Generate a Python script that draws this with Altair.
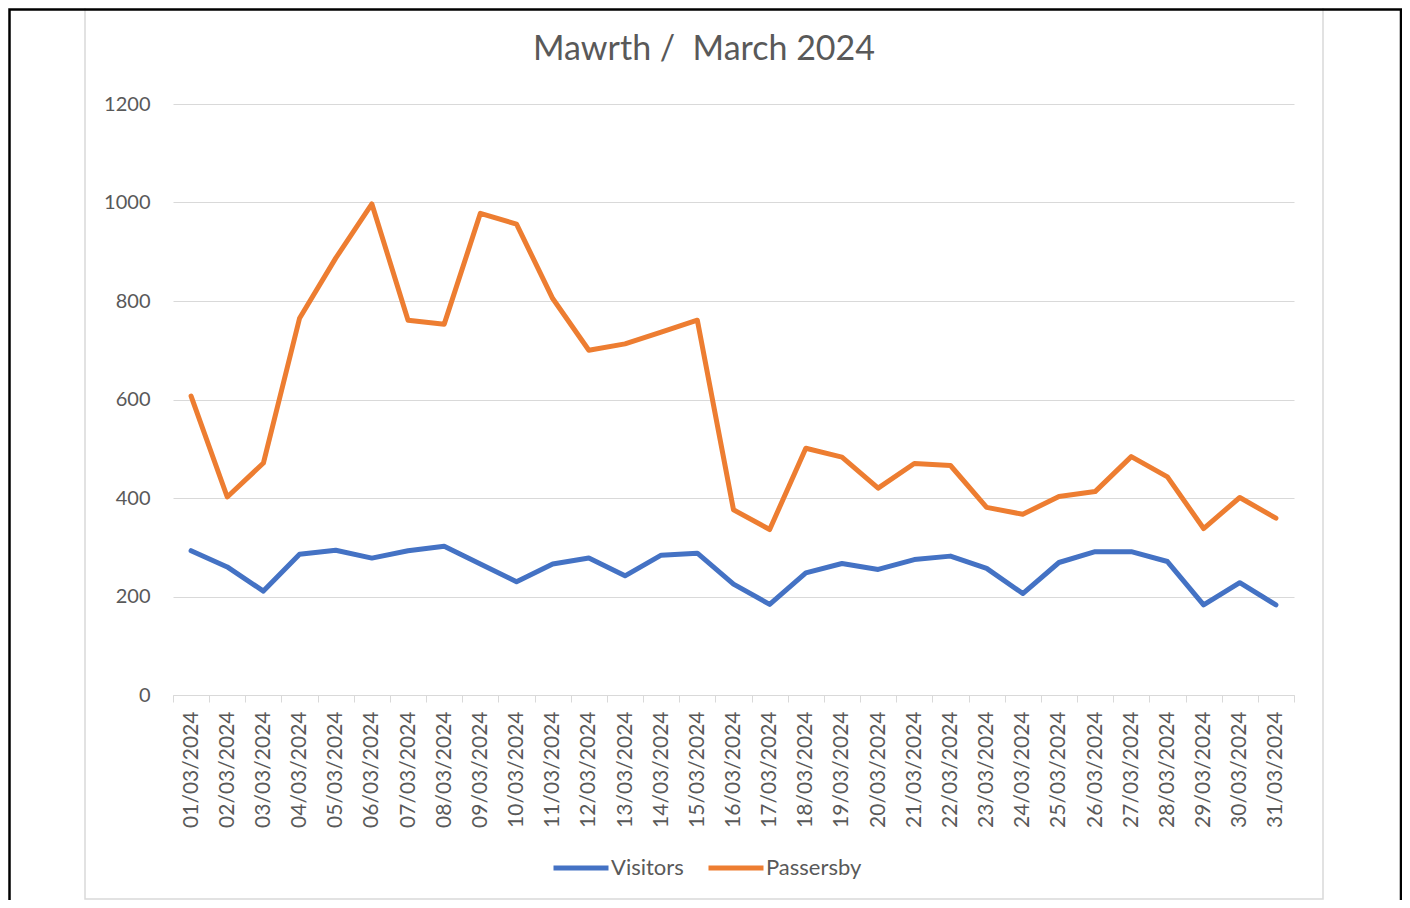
import altair as alt
import pandas as pd

dates = ["01/03/2024", "02/03/2024", "03/03/2024", "04/03/2024", "05/03/2024",
         "06/03/2024", "07/03/2024", "08/03/2024", "09/03/2024", "10/03/2024",
         "11/03/2024", "12/03/2024", "13/03/2024", "14/03/2024", "15/03/2024",
         "16/03/2024", "17/03/2024", "18/03/2024", "19/03/2024", "20/03/2024",
         "21/03/2024", "22/03/2024", "23/03/2024", "24/03/2024", "25/03/2024",
         "26/03/2024", "27/03/2024", "28/03/2024", "29/03/2024", "30/03/2024",
         "31/03/2024"]
visitors = [293, 260, 211, 286, 294, 278, 293, 302, 266, 230, 266, 278, 242, 284, 288,
            225, 184, 248, 267, 255, 275, 282, 257, 206, 269, 291, 291, 271, 183, 228, 183]
passersby = [607, 402, 471, 765, 887, 997, 761, 753, 978, 956, 805, 700, 713, 737, 761,
             376, 336, 501, 483, 420, 470, 466, 381, 367, 403, 413, 484, 443, 338, 401, 359]
series = ["Visitors", "Passersby"]
colors = ["#4472C4", "#ED7D31"]
y_ticks = [0, 200, 400, 600, 800, 1000, 1200]
title_text = "Mawrth /\u00a0 March 2024"

rows = []
for name, vals in zip(series, [visitors, passersby]):
    for d, v in zip(dates, vals):
        rows.append({"Date": d, "Series": name, "Value": v})
df = pd.DataFrame(rows)

TXT = "#595959"
GRID = "#D9D9D9"
FONT = "Lato"

W, H = 1121, 591

lines = alt.Chart(df).mark_line(strokeWidth=5, strokeCap="round", strokeJoin="round").encode(
    x=alt.X("Date:O", sort=dates, bandPosition=0.5,
            scale=alt.Scale(type="band", paddingInner=0, paddingOuter=0),
            axis=alt.Axis(title=None, labelAngle=270, labelFont=FONT, labelFontSize=21,
                          labelColor=TXT, tickColor=GRID, tickSize=7, tickWidth=1,
                          domainColor=GRID, domainWidth=1, tickBand="extent",
                          labelPadding=9, grid=False)),
    y=alt.Y("Value:Q", scale=alt.Scale(domain=[0, 1200], nice=False),
            axis=alt.Axis(title=None, values=y_ticks, format="d", domain=False, ticks=False,
                          labelPadding=23, labelFont=FONT, labelFontSize=20,
                          labelColor=TXT, gridColor=GRID, gridWidth=1)),
    color=alt.Color("Series:N", sort=series,
                    scale=alt.Scale(domain=series, range=colors),
                    legend=alt.Legend(title=None, orient="none", direction="horizontal",
                                      legendX=378, legendY=734, symbolType="stroke",
                                      symbolSize=3025, symbolStrokeWidth=5,
                                      labelFont=FONT, labelFontSize=22, labelColor=TXT,
                                      labelOffset=0, columnPadding=14, padding=0)),
)

frame_df = pd.DataFrame({"k": [0]})
inner_box = alt.Chart(frame_df).mark_rect(fillOpacity=0, stroke=GRID, strokeWidth=1.5).encode(
    x=alt.value(-88), x2=alt.value(1150), y=alt.value(-98), y2=alt.value(795)
)
outer_box = alt.Chart(frame_df).mark_rect(fillOpacity=0, stroke="black", strokeWidth=2.5).encode(
    x=alt.value(-163.5), x2=alt.value(1228), y=alt.value(-94.5), y2=alt.value(830)
)

chart = alt.layer(inner_box, outer_box, lines).properties(
    width=W, height=H,
    title=alt.TitleParams(text=title_text, font=FONT, fontSize=34,
                          fontWeight="normal", color=TXT, anchor="middle", frame="group",
                          baseline="alphabetic", offset=0, dy=89, dx=-29.5),
    autosize=alt.AutoSizeParams(type="none"),
    padding={"left": 165, "top": 96, "right": 108, "bottom": 205},
    background="white",
).configure_view(stroke=None)

chart.save("out.html", embed_options={"renderer": "svg", "actions": False})
